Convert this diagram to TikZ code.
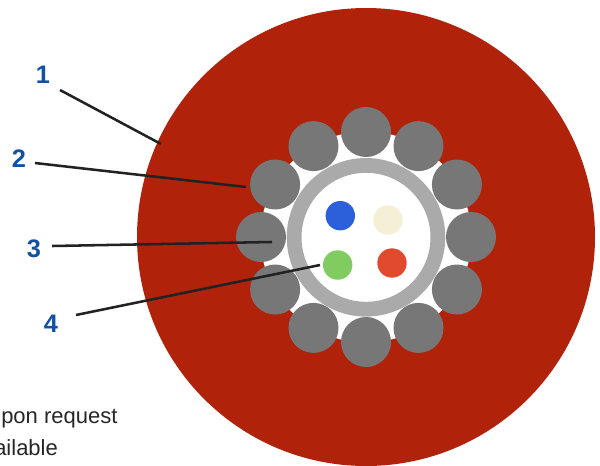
\documentclass[tikz,border=0pt]{standalone}
\usepackage{fontspec}
\setmainfont{Liberation Sans}
\definecolor{jacketred}{HTML}{B0220A}
\definecolor{wiregray}{HTML}{777777}
\definecolor{tubegray}{HTML}{AAAAAA}
\definecolor{fibreblue}{HTML}{2B60DA}
\definecolor{fibrecream}{HTML}{F5EFD6}
\definecolor{fibregreen}{HTML}{80CC60}
\definecolor{fibrered}{HTML}{E24A30}
\definecolor{labelblue}{HTML}{1050A5}
\definecolor{leaderblack}{HTML}{222222}
\tikzset{
  numlabel/.style={text=labelblue,font=\bfseries\fontsize{19}{19}\selectfont,inner sep=0},
  leader/.style={draw=leaderblack,line width=1.9pt},
  notetext/.style={anchor=base west,text=black!85,font=\fontsize{16.5}{16.5}\selectfont,inner sep=0},
}
\begin{document}
\begin{tikzpicture}[x=0.75pt,y=-0.75pt]
\useasboundingbox (0,0) rectangle (600,465);
\clip (0,0) rectangle (600,465);
\fill[jacketred] (366,237) circle (229);
\fill[white] (366,237) circle (105.5);
\fill[wiregray] (366,132) circle (25);
\fill[wiregray] (418.5,146.1) circle (25);
\fill[wiregray] (456.9,184.5) circle (25);
\fill[wiregray] (471,237) circle (25);
\fill[wiregray] (456.9,289.5) circle (25);
\fill[wiregray] (418.5,327.9) circle (25);
\fill[wiregray] (366,342) circle (25);
\fill[wiregray] (313.5,327.9) circle (25);
\fill[wiregray] (275.1,289.5) circle (25);
\fill[wiregray] (261,237) circle (25);
\fill[wiregray] (275.1,184.5) circle (25);
\fill[wiregray] (313.5,146.1) circle (25);
\fill[tubegray,even odd rule] (366,237.3) circle (79.3) (366,237.3) circle (64.5);
\fill[fibreblue] (340.3,215.7) circle (14.7);
\fill[fibrecream] (388,220) circle (14.7);
\fill[fibregreen] (337.7,265) circle (14.7);
\fill[fibrered] (392,263) circle (14.7);
\node[numlabel] (num1) at (43,75) {1};
\node[numlabel] (num2) at (19,159) {2};
\node[numlabel] (num3) at (34,249) {3};
\node[numlabel] (num4) at (51,324) {4};
\coordinate (from1) at (60,90);
\coordinate (to1) at (161,144);
\coordinate (from2) at (35,163);
\coordinate (to2) at (246,187);
\coordinate (from3) at (52,246);
\coordinate (to3) at (272,242);
\coordinate (from4) at (76,315);
\coordinate (to4) at (320,265);
\draw[leader] (from1) -- (to1);
\draw[leader] (from2) -- (to2);
\draw[leader] (from3) -- (to3);
\draw[leader] (from4) -- (to4);
\node[notetext] (note1) at (1,423) {pon request};
\node[notetext] (note2) at (-6,455.5) {ailable};
\end{tikzpicture}
\end{document}
